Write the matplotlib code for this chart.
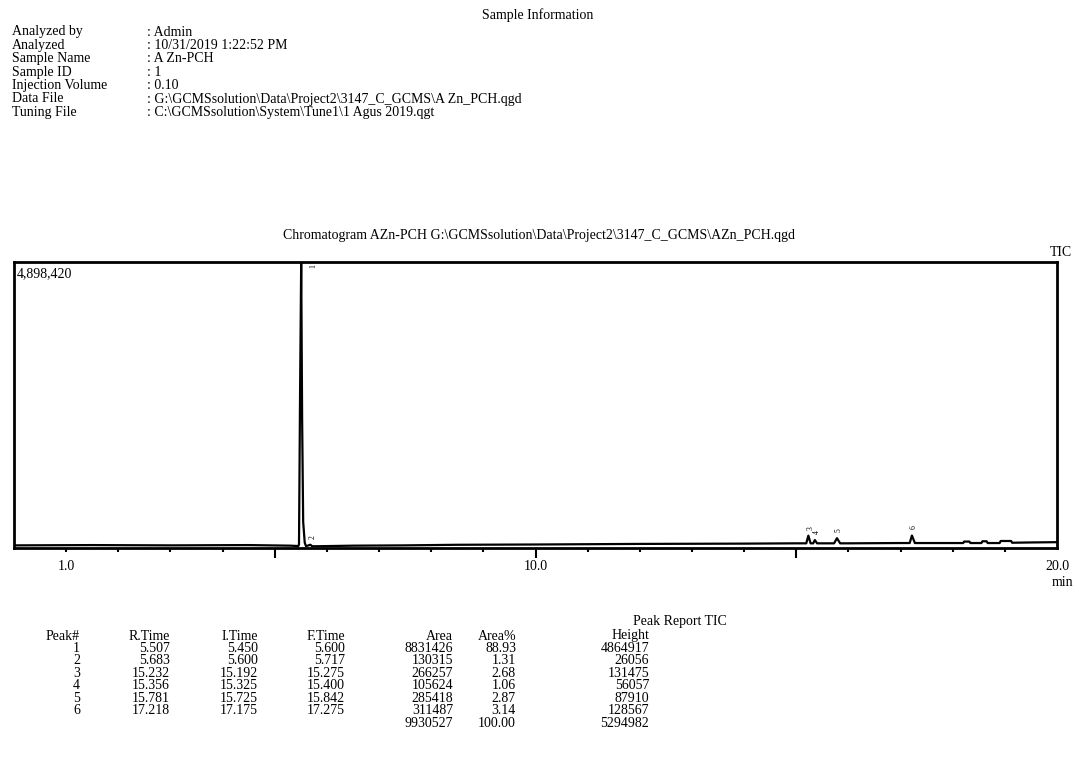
import numpy as np
import matplotlib.pyplot as plt
from matplotlib.ticker import FixedLocator, NullFormatter

plt.rcParams['font.family'] = ['Liberation Serif', 'DejaVu Serif']

# --- sample header ---
info_labels = ["Analyzed by", "Analyzed", "Sample Name", "Sample ID",
               "Injection Volume", "Data File", "Tuning File"]
info_values = [": Admin", ": 10/31/2019 1:22:52 PM", ": A Zn-PCH", ": 1", ": 0.10",
               r": G:\GCMSsolution\Data\Project2\3147_C_GCMS\A Zn_PCH.qgd",
               r": C:\GCMSsolution\System\Tune1\1 Agus 2019.qgt"]
chrom_title = r"Chromatogram AZn-PCH G:\GCMSsolution\Data\Project2\3147_C_GCMS\AZn_PCH.qgd"

# --- peak report ---
peak_no = [1, 2, 3, 4, 5, 6]
r_time = [5.507, 5.683, 15.232, 15.356, 15.781, 17.218]
i_time = [5.450, 5.600, 15.192, 15.325, 15.725, 17.175]
f_time = [5.600, 5.717, 15.275, 15.400, 15.842, 17.275]
area = [8831426, 130315, 266257, 105624, 285418, 311487]
area_pct = [88.93, 1.31, 2.68, 1.06, 2.87, 3.14]
height = [4864917, 26056, 131475, 56057, 87910, 128567]
totals = ["9930527", "100.00", "5294982"]

# baseline (min, counts)
base_t = [0.0, 1.5, 3.0, 4.5, 5.3, 5.80, 6.5, 7.5, 8.5, 10.0, 12.0, 14.0, 15.0,
          16.0, 17.0, 18.0, 18.2, 18.22, 18.32, 18.34, 18.55, 18.57, 18.65, 18.67,
          18.9, 18.92, 19.12, 19.14, 19.5, 20.0]
base_y = [45000, 50000, 45000, 50000, 40000, 30000, 40000, 45000, 55000, 60000, 70000, 75000, 80000,
          80000, 85000, 85000, 85000, 110000, 110000, 85000, 85000, 115000, 115000, 85000,
          85000, 120000, 120000, 90000, 95000, 100000]
# shape of the main peak
main_t = [5.465, 5.485, 5.507, 5.525, 5.545, 5.575]
main_y = [60000, 2600000, 4898420, 2200000, 450000, 90000]
# baseline level under each integrated peak
peak_base = [33503, 30000, 80000, 80000, 80000, 85000]

y_max = 4898420
x_labels = [1.0, 10.0, 20.0]

W, H = 1076, 780
fig = plt.figure(figsize=(W / 100, H / 100), dpi=100)


def fy(py):
    return 1 - py / H


fs = 10
fig.text(538 / W, fy(15), "Sample Information", ha="center", va="center", fontsize=fs)
for i, (lab, val) in enumerate(zip(info_labels, info_values)):
    y = fy(32 + i * 13.4)
    fig.text(12 / W, y, lab, ha="left", va="center", fontsize=fs)
    fig.text(147 / W, y, val, ha="left", va="center", fontsize=fs)

fig.text(539 / W, fy(235), chrom_title, ha="center", va="center", fontsize=fs)
fig.text(1072 / W, fy(253), "TIC", ha="right", va="center", fontsize=fs)

# --- chromatogram ---
ax = fig.add_axes([14 / W, fy(548), (1057 - 14) / W, (548 - 262) / H])
pts = list(zip(base_t, base_y)) + list(zip(main_t, main_y))
pts.append((i_time[0], peak_base[0]))
for k in range(1, len(peak_no)):
    pts.append((i_time[k] + 1e-4, peak_base[k]))
    pts.append((r_time[k], peak_base[k] + height[k]))
    pts.append((f_time[k] + 2e-4, peak_base[k]))
pts.sort()
t, y = zip(*pts)
ax.plot(t, y, color="black", lw=1.6)

ax.set_xlim(0, 20)
ax.set_ylim(0, y_max)
for s in ax.spines.values():
    s.set_linewidth(2)
ax.set_yticks([])
ax.xaxis.set_major_locator(FixedLocator([5, 10, 15]))
ax.xaxis.set_minor_locator(FixedLocator(np.arange(1, 20)))
ax.xaxis.set_major_formatter(NullFormatter())
ax.tick_params(axis="x", which="major", direction="out", length=7, width=1.5)
ax.tick_params(axis="x", which="minor", direction="out", length=3, width=1.5)

for xv in x_labels:
    ax.annotate(f"{xv:.1f}", (xv, 0), xycoords=("data", "axes fraction"),
                xytext=(0, -19), textcoords="offset pixels",
                ha="center", va="center", fontsize=fs)
ax.annotate("min", (20, 0), xycoords=("data", "axes fraction"),
            xytext=(6, -35), textcoords="offset pixels",
            ha="center", va="center", fontsize=fs)
ax.text(0.003, 0.96, f"{y_max:,}", transform=ax.transAxes, ha="left", va="center", fontsize=fs)

for k in range(len(peak_no)):
    top = peak_base[k] + height[k]
    ax.annotate(str(peak_no[k]), (r_time[k], min(top, y_max)),
                xytext=(12, -4) if k == 0 else (2, 8), textcoords="offset pixels",
                ha="center", va="center", fontsize=5.5, rotation=90)

# --- peak report table ---
fig.text(680 / W, fy(621), "Peak Report TIC", ha="center", va="center", fontsize=fs)
col_x = [80, 170, 258, 345, 453, 516, 649]
headers = ["Peak#", "R.Time", "I.Time", "F.Time", "Area", "Area%", "Height"]
for cx, hd in zip(col_x, headers):
    fig.text(cx / W, fy(636), hd, ha="right", va="center", fontsize=fs)
for k in range(len(peak_no)):
    row = [str(peak_no[k]), f"{r_time[k]:.3f}", f"{i_time[k]:.3f}", f"{f_time[k]:.3f}",
           str(area[k]), f"{area_pct[k]:.2f}", str(height[k])]
    y = fy(648 + k * 12.6)
    for cx, cell in zip(col_x, row):
        fig.text(cx / W, y, cell, ha="right", va="center", fontsize=fs)
for cx, cell in zip(col_x[4:], totals):
    fig.text(cx / W, fy(648 + 6 * 12.6), cell, ha="right", va="center", fontsize=fs)

fig.savefig("out.png", dpi=100)
